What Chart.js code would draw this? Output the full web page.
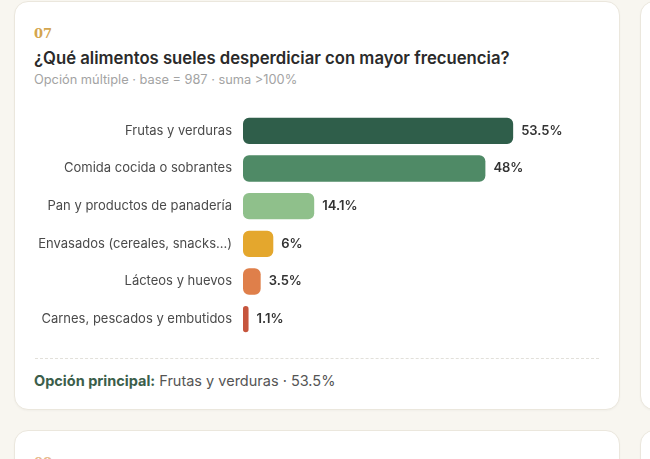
<!DOCTYPE html>
<html lang="es">
<head>
<meta charset="utf-8">
<title>Desperdicio de alimentos</title>
<script src="https://cdn.jsdelivr.net/npm/chart.js@4.4.1/dist/chart.umd.min.js"></script>
<style>
  html, body { margin: 0; padding: 0; }
  body {
    width: 650px; height: 459px; overflow: hidden;
    background: #f8f6f0;
    font-family: Inter, "Noto Sans", sans-serif;
    position: relative;
  }
  .card {
    position: absolute;
    background: #fff;
    border: 1px solid #ebe7dd;
    border-radius: 14px;
    box-shadow: 0 1px 2px rgba(0,0,0,0.03);
    box-sizing: border-box;
  }
  #main { left: 14px; top: 1px; width: 606px; height: 409px; }
  #right1 { left: 640px; top: 1px; width: 300px; height: 409px; }
  #below1 { left: 14px; top: 430px; width: 606px; height: 300px; }
  #below2 { left: 640px; top: 430px; width: 300px; height: 300px; }
  .num {
    position: absolute; left: 19px; top: 24px;
    font-family: "DejaVu Serif", "Liberation Serif", serif;
    font-size: 13px; font-weight: 600; color: #d4a54e;
  }
  .title {
    position: absolute; left: 19px; top: 46px;
    font-size: 16.7px; font-weight: 600; color: #2a2a2a;
    white-space: nowrap;
  }
  .sub {
    position: absolute; left: 19px; top: 70px;
    font-size: 12.8px; color: #a3a3a3; white-space: nowrap;
  }
  .chart-box {
    position: absolute; left: 20px; top: 110px; width: 564px; height: 226px;
  }
  .rule {
    position: absolute; left: 20px; top: 356px; width: 564px;
    border-top: 1px dashed #e2e0da;
  }
  .foot {
    position: absolute; left: 19px; top: 370px;
    font-size: 14.5px; color: #555; white-space: nowrap;
  }
  .foot b { color: #3b5e4a; font-weight: 700; }
</style>
</head>
<body>
<div class="card" id="main">
  <div class="num">07</div>
  <div class="title">¿Qué alimentos sueles desperdiciar con mayor frecuencia?</div>
  <div class="sub">Opción múltiple · base = 987 · suma &gt;100%</div>
  <div class="chart-box"><canvas id="myChart"></canvas></div>
  <div class="rule"></div>
  <div class="foot" id="foot"></div>
</div>
<div class="card" id="right1"></div>
<div class="card" id="below1"><div class="num" style="color:#e6b98a">08</div></div>
<div class="card" id="below2"></div>

<script>
const categorias = [
  'Frutas y verduras',
  'Comida cocida o sobrantes',
  'Pan y productos de panadería',
  'Envasados (cereales, snacks...)',
  'Lácteos y huevos',
  'Carnes, pescados y embutidos'
]
const porcentajes = [53.5, 48, 14.1, 6, 3.5, 1.1]
const colores = ['#2f5e4a', '#4f8a66', '#8fc08b', '#e4a72d', '#df7f4a', '#c6553d']

document.getElementById('foot').innerHTML =
  '<b>Opción principal:</b> ' + categorias[0] + ' · ' + porcentajes[0] + '%'

const etiquetas = {
  id: 'etiquetas',
  afterDatasetsDraw(chart) {
    const c = chart.ctx
    const meta = chart.getDatasetMeta(0)
    c.save()
    c.font = '600 13px Inter, sans-serif'
    c.fillStyle = '#333'
    c.textAlign = 'left'
    c.textBaseline = 'middle'
    meta.data.forEach((bar, i) => {
      c.fillText(porcentajes[i] + '%', bar.x + 8, bar.y)
    })
    c.restore()
  }
}

const ctx = document.getElementById('myChart')
new Chart(ctx, {
  type: 'bar',
  data: {
    labels: categorias,
    datasets: [{
      data: porcentajes,
      backgroundColor: colores,
      borderRadius: 6,
      borderSkipped: false,
      barPercentage: 0.7,
      categoryPercentage: 1
    }]
  },
  options: {
    indexAxis: 'y',
    responsive: true,
    maintainAspectRatio: false,
    animation: false,
    layout: { padding: 0 },
    scales: {
      x: {
        display: false,
        beginAtZero: true,
        max: 70.5
      },
      y: {
        grid: { display: false },
        border: { display: false },
        ticks: {
          color: '#4a4a4a',
          padding: 3,
          font: { family: 'Inter, sans-serif', size: 13 }
        },
        afterFit(scale) {
          scale.width = 208
          scale.paddingTop = 0
          scale.paddingBottom = 0
        }
      }
    },
    plugins: {
      legend: { display: false },
      tooltip: { enabled: false }
    }
  },
  plugins: [etiquetas]
})
</script>
</body>
</html>
